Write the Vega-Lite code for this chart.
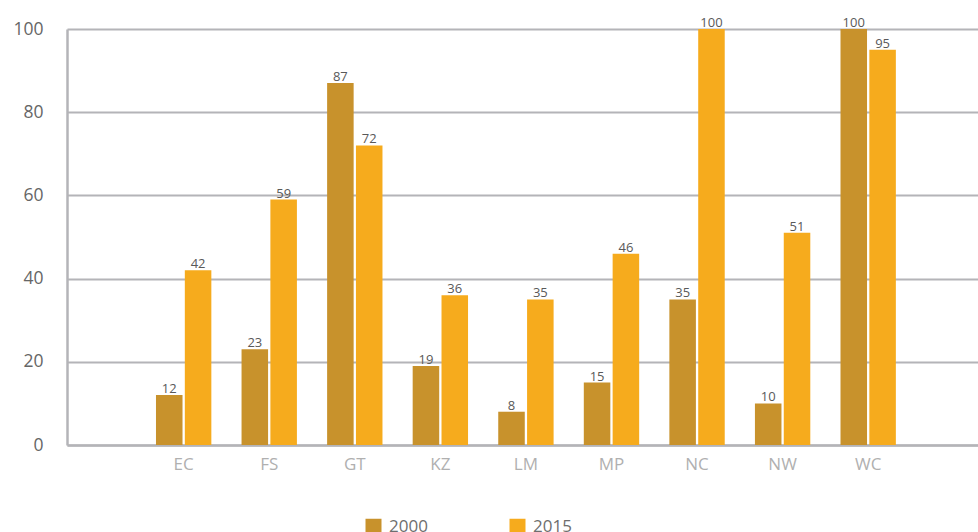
{
  "$schema": "https://vega.github.io/schema/vega-lite/v6.json",
  "width": 911,
  "height": 416,
  "autosize": {"type": "none"},
  "padding": {"left": 67, "top": 29, "right": 0, "bottom": 87},
  "background": "white",
  "config": {
    "view": {"stroke": null},
    "font": "Open Sans"
  },
  "data": {
    "values": [
      {"province": "EC", "year": "2000", "value": 12},
      {"province": "EC", "year": "2015", "value": 42},
      {"province": "FS", "year": "2000", "value": 23},
      {"province": "FS", "year": "2015", "value": 59},
      {"province": "GT", "year": "2000", "value": 87},
      {"province": "GT", "year": "2015", "value": 72},
      {"province": "KZ", "year": "2000", "value": 19},
      {"province": "KZ", "year": "2015", "value": 36},
      {"province": "LM", "year": "2000", "value": 8},
      {"province": "LM", "year": "2015", "value": 35},
      {"province": "MP", "year": "2000", "value": 15},
      {"province": "MP", "year": "2015", "value": 46},
      {"province": "NC", "year": "2000", "value": 35},
      {"province": "NC", "year": "2015", "value": 100},
      {"province": "NW", "year": "2000", "value": 10},
      {"province": "NW", "year": "2015", "value": 51},
      {"province": "WC", "year": "2000", "value": 100},
      {"province": "WC", "year": "2015", "value": 95}
    ]
  },
  "encoding": {
    "x": {
      "field": "province",
      "type": "nominal",
      "sort": null,
      "scale": {"paddingInner": 0.353, "paddingOuter": 1.035, "align": 0.52},
      "axis": {
        "title": null,
        "labelAngle": 0,
        "ticks": false,
        "domainColor": "#b4b4b8",
        "domainWidth": 2.5,
        "labelColor": "#b0b0b0",
        "labelFontSize": 17,
        "labelPadding": 11,
        "grid": false
      }
    },
    "xOffset": {
      "field": "year",
      "type": "nominal",
      "scale": {"paddingInner": 0.08, "paddingOuter": 0}
    },
    "y": {
      "field": "value",
      "type": "quantitative",
      "scale": {"domain": [0, 100], "nice": false},
      "axis": {
        "title": null,
        "values": [0, 20, 40, 60, 80, 100],
        "ticks": false,
        "domainColor": "#b4b4b8",
        "domainWidth": 2.5,
        "gridColor": "#b4b4b8",
        "gridWidth": 2,
        "labelColor": "#666666",
        "labelFontSize": 17.5,
        "labelPadding": 24
      }
    }
  },
  "layer": [
    {
      "mark": {"type": "bar"},
      "encoding": {
        "color": {
          "field": "year",
          "type": "nominal",
          "scale": {"domain": ["2000", "2015"], "range": ["#C8922C", "#F6AB1D"]},
          "legend": {
            "title": null,
            "orient": "none",
            "legendX": 298,
            "legendY": 489,
            "direction": "horizontal",
            "symbolType": "square",
            "symbolSize": 256,
            "symbolStrokeWidth": 0,
            "labelFontSize": 17,
            "labelColor": "#6e6e6e",
            "labelOffset": 7,
            "columnPadding": 81
          }
        }
      }
    },
    {
      "mark": {"type": "text", "dy": -6, "fontSize": 13, "color": "#595959"},
      "encoding": {
        "text": {"field": "value", "type": "quantitative"}
      }
    }
  ]
}
